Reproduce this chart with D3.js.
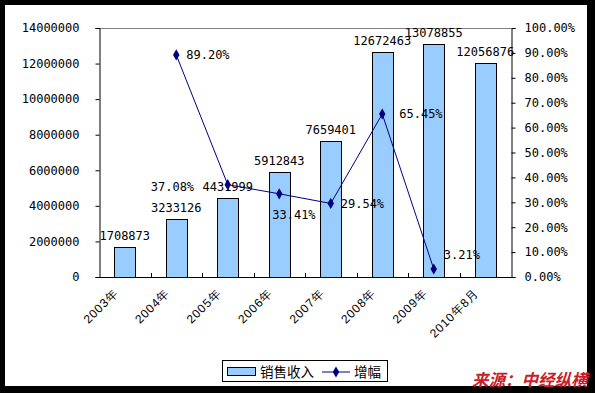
<!DOCTYPE html>
<html>
<head>
<meta charset="utf-8">
<script src="https://cdn.jsdelivr.net/npm/d3@7"></script>
<style>
  body { margin: 0; background: #000; }
  svg { display: block; }
</style>
</head>
<body>
<div id="chart"></div>
<script>
// data
const years = ["2003年", "2004年", "2005年", "2006年", "2007年", "2008年", "2009年", "2010年8月"];
const sales = [1708873, 3233126, 4431999, 5912843, 7659401, 12672463, 13078855, 12056876];
const growth = [null, 0.892, 0.3708, 0.3341, 0.2954, 0.6545, 0.0321, null];
const growthLabels = ["", "89.20%", "37.08%", "33.41%", "29.54%", "65.45%", "3.21%", ""];
const leftTicks = [0, 2000000, 4000000, 6000000, 8000000, 10000000, 12000000, 14000000];
const rightTicks = [0, 0.1, 0.2, 0.3, 0.4, 0.5, 0.6, 0.7, 0.8, 0.9, 1.0];

// label offsets for growth labels (moved by hand in the original)
const labelOffsets = [null, [10, 4], [-77, 6], [-7, 25], [10, 5], [17, 4], [10, -10], null];

const width = 595;
const height = 393;
const plot = { left: 99, right: 511, top: 28, bottom: 277 };
const mono = "'DejaVu Sans Mono', monospace";

const svg = d3.select("#chart")
    .append("svg")
    .attr("width", width)
    .attr("height", height);

// black frame and white page
svg.append("rect").attr("width", width).attr("height", height).attr("fill", "#000");
svg.append("rect").attr("x", 5).attr("y", 5).attr("width", 582).attr("height", 381).attr("fill", "#fff");

const x = d3.scaleBand().domain(years).range([plot.left, plot.right]);
const y = d3.scaleLinear().domain([0, 14000000]).range([plot.bottom, plot.top]);
const y2 = d3.scaleLinear().domain([0, 1]).range([plot.bottom, plot.top]);

// top border of plot area
svg.append("line")
    .attr("x1", plot.left).attr("x2", plot.right)
    .attr("y1", plot.top + 0.5).attr("y2", plot.top + 0.5)
    .attr("stroke", "#808080");

// left axis
const leftAxis = svg.append("g")
    .attr("transform", `translate(${plot.left + 0.5},0)`)
    .call(d3.axisLeft(y).tickValues(leftTicks).tickSize(4).tickPadding(16).tickFormat(d3.format("d")));

// right axis
const rightAxis = svg.append("g")
    .attr("transform", `translate(${plot.right + 0.5},0)`)
    .call(d3.axisRight(y2).tickValues(rightTicks).tickSize(4).tickPadding(9).tickFormat(d => d3.format(".2f")(d * 100) + "%"));

[leftAxis, rightAxis].forEach(g => {
    g.select(".domain").attr("stroke", "#000");
    g.selectAll(".tick line").attr("stroke", "#000");
    g.selectAll("text")
        .attr("font-family", mono)
        .attr("font-size", "12px")
        .attr("fill", "#000");
});

// bars
const barW = x.bandwidth() * 0.4;
svg.selectAll(".bar")
    .data(sales)
    .enter().append("rect")
    .attr("class", "bar")
    .attr("x", (d, i) => Math.round(x(years[i]) + (x.bandwidth() - barW) / 2) + 0.5)
    .attr("y", d => Math.round(y(d)) + 0.5)
    .attr("width", Math.round(barW))
    .attr("height", d => plot.bottom - Math.round(y(d)))
    .attr("fill", "#99CCFF")
    .attr("stroke", "#000");

// bottom axis with inward ticks at band edges
svg.append("line")
    .attr("x1", plot.left).attr("x2", plot.right + 1)
    .attr("y1", plot.bottom + 0.5).attr("y2", plot.bottom + 0.5)
    .attr("stroke", "#000");
svg.selectAll(".xtick")
    .data(years.slice(1))
    .enter().append("line")
    .attr("x1", d => Math.round(x(d)) + 0.5)
    .attr("x2", d => Math.round(x(d)) + 0.5)
    .attr("y1", plot.bottom)
    .attr("y2", plot.bottom - 4)
    .attr("stroke", "#000");

// x labels rotated
svg.selectAll(".xlabel")
    .data(years)
    .enter().append("text")
    .attr("transform", d => `translate(${x(d) + x.bandwidth() / 2 - 6},${plot.bottom + 17}) rotate(-45)`)
    .attr("text-anchor", "end")
    .attr("font-family", "'Liberation Sans', Arial, sans-serif")
    .attr("font-size", "12px")
    .attr("letter-spacing", "0.8px")
    .text(d => d);

// bar value labels
svg.selectAll(".barlabel")
    .data(sales)
    .enter().append("text")
    .attr("x", (d, i) => x(years[i]) + x.bandwidth() / 2)
    .attr("y", d => y(d) - 7)
    .attr("text-anchor", "middle")
    .attr("font-family", mono)
    .attr("font-size", "12px")
    .attr("fill", "#000")
    .text(d => d);

// growth line
const pts = growth.map((g, i) => ({ g: g, yr: years[i], lab: growthLabels[i], off: labelOffsets[i] }))
    .filter(p => p.g !== null);
const cx = p => x(p.yr) + x.bandwidth() / 2;

svg.append("path")
    .datum(pts)
    .attr("fill", "none")
    .attr("stroke", "#000080")
    .attr("stroke-width", 1)
    .attr("d", d3.line().x(cx).y(p => y2(p.g)));

svg.selectAll(".marker")
    .data(pts)
    .enter().append("path")
    .attr("transform", p => `translate(${cx(p)},${y2(p.g)})`)
    .attr("d", d3.symbol().type(d3.symbolDiamond).size(36))
    .attr("fill", "#000080");

svg.selectAll(".glabel")
    .data(pts)
    .enter().append("text")
    .attr("x", p => cx(p) + p.off[0])
    .attr("y", p => y2(p.g) + p.off[1])
    .attr("font-family", mono)
    .attr("font-size", "12px")
    .attr("fill", "#000")
    .text(p => p.lab);

// legend
const lg = svg.append("g");
lg.append("rect")
    .attr("x", 222.5).attr("y", 360.5).attr("width", 165).attr("height", 21)
    .attr("fill", "#fff").attr("stroke", "#000");
lg.append("rect")
    .attr("x", 227.5).attr("y", 367.5).attr("width", 28).attr("height", 8)
    .attr("fill", "#99CCFF").attr("stroke", "#000");
lg.append("text")
    .attr("x", 260).attr("y", 377)
    .attr("font-family", "'Noto Sans CJK SC', sans-serif")
    .attr("font-size", "13.5px")
    .text("销售收入");
lg.append("line")
    .attr("x1", 322).attr("x2", 350).attr("y1", 372).attr("y2", 372)
    .attr("stroke", "#000080");
lg.append("path")
    .attr("transform", "translate(336,372)")
    .attr("d", d3.symbol().type(d3.symbolDiamond).size(36))
    .attr("fill", "#000080");
lg.append("text")
    .attr("x", 354).attr("y", 377)
    .attr("font-family", "'Noto Sans CJK SC', sans-serif")
    .attr("font-size", "13.5px")
    .text("增幅");

// source note
svg.append("text")
    .attr("x", 472).attr("y", 386)
    .attr("font-family", "'Noto Sans CJK SC', sans-serif")
    .attr("font-size", "16.5px")
    .attr("font-weight", "bold")
    .attr("font-style", "italic")
    .attr("fill", "#C8202A")
    .text("来源：中经纵横");
</script>
</body>
</html>
